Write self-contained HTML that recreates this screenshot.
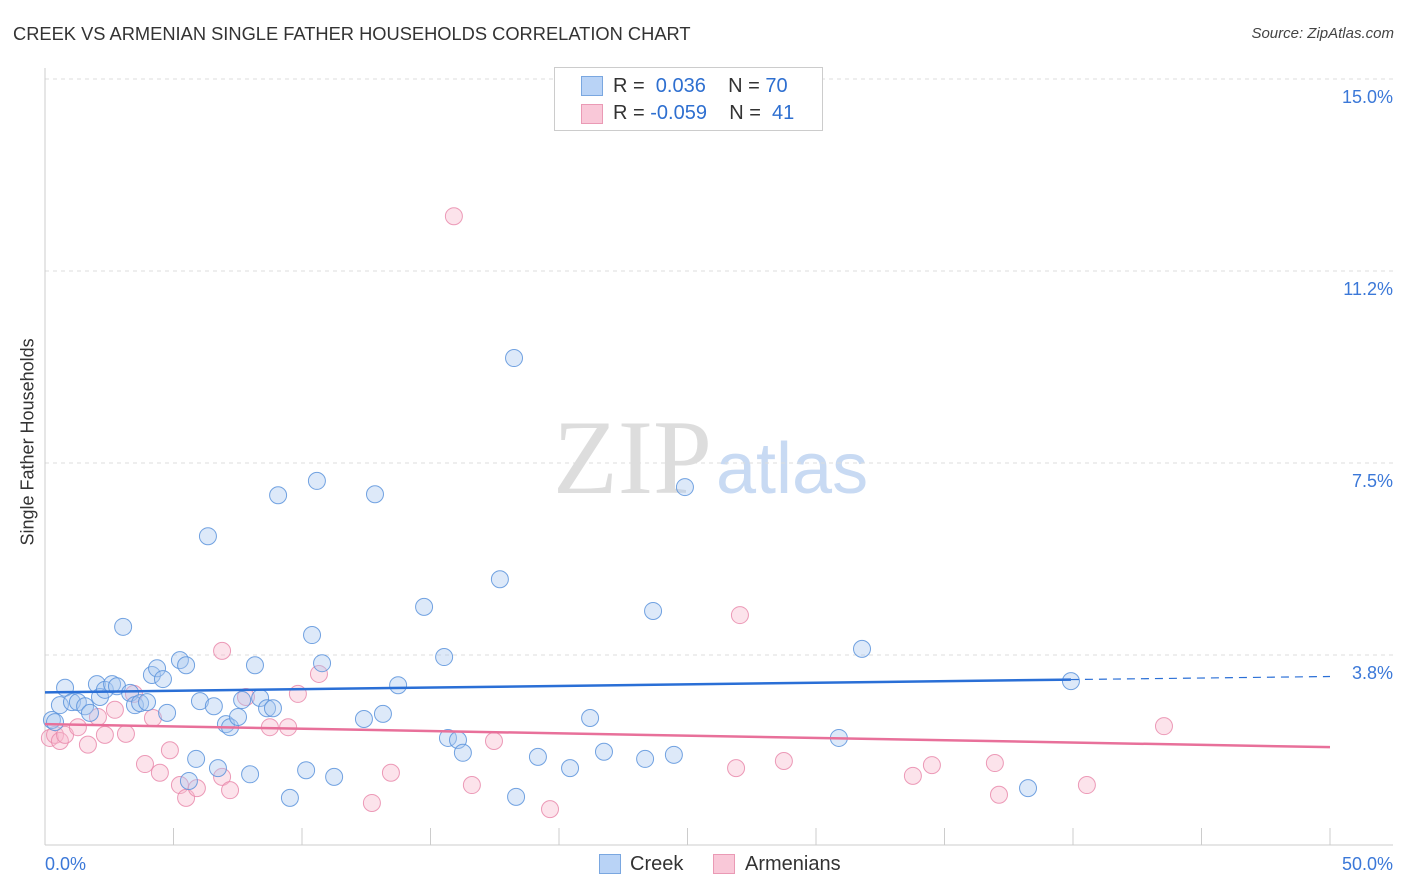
<!DOCTYPE html>
<html><head><meta charset="utf-8"><style>
body{margin:0;background:#fff;font-family:"Liberation Sans",sans-serif;}
#w{position:relative;width:1406px;height:892px;overflow:hidden}
.t{position:absolute;white-space:nowrap}
</style></head><body><div id="w">
<div class="t" style="left:13px;top:23px;font-size:18.3px;color:#333">CREEK VS ARMENIAN SINGLE FATHER HOUSEHOLDS CORRELATION CHART</div>
<div class="t" style="right:12px;top:25px;font-size:15px;color:#444;font-style:italic">Source: ZipAtlas.com</div>
<div class="t" style="left:-62px;top:445px;font-size:18px;color:#333;transform:rotate(-90deg);width:180px;text-align:center">Single Father Households</div>
<svg id="s" width="1406" height="892" style="position:absolute;left:0;top:0">
<text x="553" y="493" font-family="Liberation Serif" font-size="106" fill="#ddd">ZIP</text>
<text x="716" y="493" font-family="Liberation Sans" font-size="72" fill="#c8daf3">atlas</text>
</svg>
<div style="position:absolute;left:554px;top:67px;width:267px;height:62px;border:1px solid #ccc;background:#fff;font-size:20px;color:#333">
<div style="position:absolute;left:26px;top:8px;width:20px;height:18px;background:#b9d3f6;border:1px solid #7aa7e0"></div>
<div class="t" style="left:58px;top:7px">R = &nbsp;<span style="color:#2e6fd0">0.036</span>&nbsp;&nbsp;&nbsp; N = <span style="color:#2e6fd0">70</span></div>
<div style="position:absolute;left:26px;top:36px;width:20px;height:18px;background:#f9c8d8;border:1px solid #ea9ab5"></div>
<div class="t" style="left:58px;top:34px">R = <span style="color:#2e6fd0">-0.059</span>&nbsp;&nbsp;&nbsp; N = &nbsp;<span style="color:#2e6fd0">41</span></div>
</div>
<div style="position:absolute;left:599px;top:854px;width:20px;height:18px;background:#b9d3f6;border:1px solid #7aa7e0"></div>
<div class="t" style="left:630px;top:853px;font-size:20px;color:#333">Creek</div>
<div style="position:absolute;left:713px;top:854px;width:20px;height:18px;background:#f9c8d8;border:1px solid #ea9ab5"></div>
<div class="t" style="left:745px;top:853px;font-size:20px;color:#333">Armenians</div>
</div>
<script>
const yTicks=[15.0,11.25,7.5,3.75];
const yTickLabels=["15.0%","11.2%","7.5%","3.8%"];
const xTickLabels=["0.0%","50.0%"];
const creekX=[0.27,0.39,0.78,0.58,1.05,1.28,1.56,1.75,2.02,2.14,2.33,2.61,2.80,3.04,3.31,3.50,3.70,3.97,4.16,4.36,4.59,4.75,5.25,5.49,5.60,5.88,6.03,6.34,6.57,6.73,7.04,7.20,7.51,7.67,7.98,8.17,8.37,8.64,8.87,9.07,9.53,10.16,10.39,10.58,10.78,11.25,12.41,12.84,13.15,13.74,14.75,15.53,15.68,16.07,16.26,17.70,18.25,18.33,19.18,20.43,21.21,21.75,23.35,23.66,24.47,24.90,30.89,31.79,38.25,39.92];
const creekY=[2.48,2.44,3.11,2.77,2.83,2.83,2.75,2.62,3.18,2.93,3.07,3.18,3.14,4.30,3.01,2.77,2.81,2.83,3.36,3.49,3.28,2.62,3.65,3.55,1.29,1.72,2.85,6.07,2.75,1.54,2.40,2.34,2.54,2.87,1.42,3.55,2.91,2.71,2.71,6.87,0.96,1.50,4.14,7.15,3.59,1.37,2.50,6.89,2.60,3.16,4.69,3.71,2.13,2.09,1.84,5.23,9.55,0.98,1.76,1.54,2.52,1.86,1.72,4.61,1.80,7.03,2.13,3.87,1.15,3.24];
const armX=[0.19,0.39,0.58,0.78,1.28,1.67,2.06,2.33,2.72,3.15,3.46,3.89,4.20,4.47,4.86,5.25,5.49,5.91,6.89,6.89,7.20,7.82,8.75,9.46,9.84,10.66,12.72,13.46,15.91,16.61,17.47,19.65,26.89,27.04,28.75,33.77,34.51,36.96,37.12,40.54,43.54];
const armY=[2.13,2.19,2.07,2.19,2.34,2.00,2.54,2.19,2.68,2.21,2.99,1.62,2.52,1.45,1.89,1.21,0.96,1.15,3.83,1.37,1.11,2.93,2.34,2.34,2.99,3.38,0.86,1.45,12.32,1.21,2.07,0.74,1.54,4.53,1.68,1.39,1.60,1.64,1.02,1.21,2.36];
const creekTrend=[[0,3.02],[39.92,3.27],[50,3.33]];
const armTrend=[[0,2.40],[50,1.95]];
const X0=45,X1=1330,Y0=847,PX=51.2;
const xs=v=>X0+v*(X1-X0)/50, ys=v=>Y0-v*PX;
const svg=document.getElementById('s'),NS='http://www.w3.org/2000/svg';
function mk(t,a){const e=document.createElementNS(NS,t);for(const k in a)e.setAttribute(k,a[k]);svg.appendChild(e);return e;}
yTicks.forEach((v,i)=>{
 const g=mk('line',{x1:X0,x2:1393,y1:ys(v),y2:ys(v),stroke:'#ddd','stroke-dasharray':'4,4'});
 
 
 const t=mk('text',{x:1393,y:ys(v)+24,'text-anchor':'end','font-size':18,fill:'#3b78d8'});
 t.textContent=yTickLabels[i];
 
 
});
const ax=mk('line',{x1:X0,x2:1393,y1:845,y2:845,stroke:'#ccc'});


const ay=mk('line',{x1:X0,x2:X0,y1:68,y2:845,stroke:'#ccc'});


for(let i=1;i<=10;i++){const tk=mk('line',{x1:xs(i*5),x2:xs(i*5),y1:828,y2:845,stroke:'#ccc'});
 
 }
[[xTickLabels[0],45,'start'],[xTickLabels[1],1393,'end']].forEach(([s,x,a])=>{const t=mk('text',{x:x,y:870,'text-anchor':a,'font-size':18,fill:'#3b78d8'});t.textContent=s;
 
 });
function pts(X,Y,f,s,n){X.forEach((x,i)=>{const c=mk('circle',{cx:xs(x),cy:ys(Y[i]),r:8.5,fill:f,'fill-opacity':0.4,stroke:s,'stroke-width':1,'stroke-opacity':0.85});
 
 });}
pts(armX,armY,'#f7b9cd','#e98aab','armenians-point');
pts(creekX,creekY,'#a9c8f0','#5b93dc','creek-point');
const l1=mk('line',{x1:xs(creekTrend[0][0]),y1:ys(creekTrend[0][1]),x2:xs(creekTrend[1][0]),y2:ys(creekTrend[1][1]),stroke:'#2a6fd6','stroke-width':2.5});


const l2=mk('line',{x1:xs(creekTrend[1][0]),y1:ys(creekTrend[1][1]),x2:xs(creekTrend[2][0]),y2:ys(creekTrend[2][1]),stroke:'#2a6fd6','stroke-width':1.2,'stroke-dasharray':'8,6'});


const l3=mk('line',{x1:xs(armTrend[0][0]),y1:ys(armTrend[0][1]),x2:xs(armTrend[1][0]),y2:ys(armTrend[1][1]),stroke:'#e8709a','stroke-width':2.5});


</script></body></html>
